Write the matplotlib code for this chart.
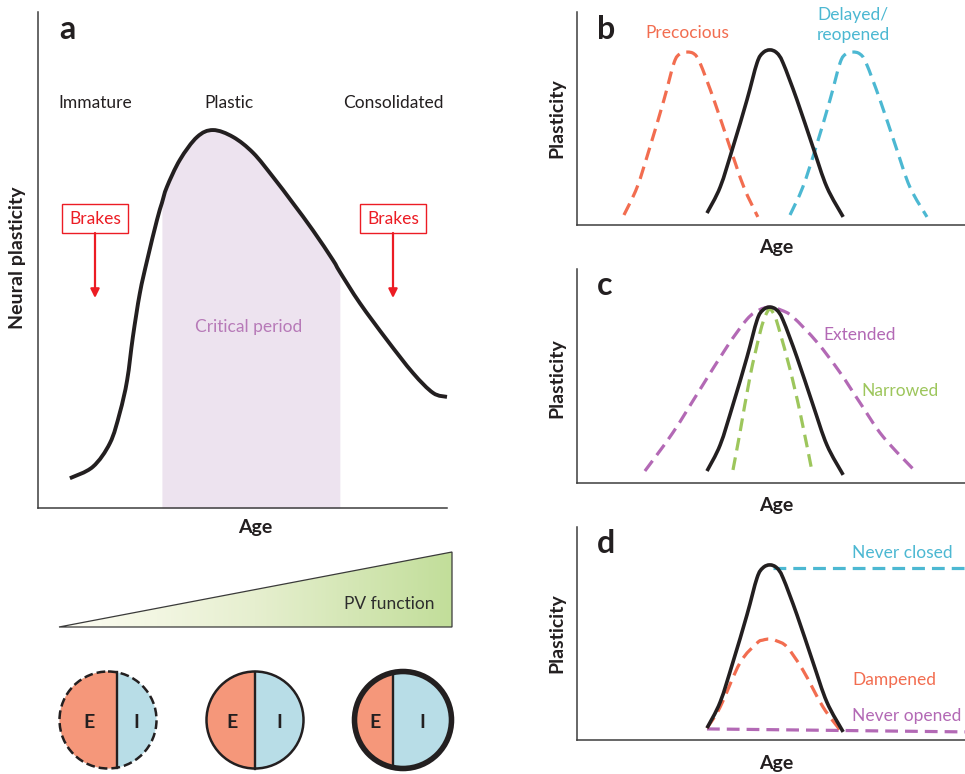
import numpy as np
import matplotlib
matplotlib.use('Agg')
import matplotlib.pyplot as plt
from matplotlib.patches import Circle, Rectangle, Polygon, PathPatch
from matplotlib.path import Path
from matplotlib.colors import LinearSegmentedColormap

plt.rcParams['font.family'] = ['Lato', 'DejaVu Sans']

# ---- panel a: neural plasticity over age (arbitrary units 0-100) ----
a_age = [7.8, 13.4, 17.6, 20.0, 21.8, 23.2, 24.9, 26.7, 29.1, 30.3, 31.5, 34.7, 38.9,
         42.8, 47.7, 52.6, 57.5, 62.3, 67.2, 72.1, 73.8, 78.7, 85.3, 91.7, 96.6, 100.0]
a_plast = [6.0, 8.3, 13.1, 19.2, 25.8, 34.5, 43.3, 50.0, 58.1, 61.5, 64.7, 70.2, 74.8,
           76.2, 74.8, 71.6, 66.7, 61.5, 56.0, 50.0, 47.6, 41.3, 33.9, 27.2, 23.2, 22.4]
critical_start, critical_end = 30.3, 73.8
stage_labels = ['Immature', 'Plastic', 'Consolidated']

# ---- panels b-d (arbitrary units 0-100) ----
normal_age = [33.5, 36.9, 40.2, 43.8, 46.4, 47.9, 49.7, 51.5, 53.1, 56.7, 60.8, 64.4, 68.6]
normal_plast = [5.6, 17.8, 36.6, 58.7, 76.1, 80.8, 82.2, 80.8, 76.1, 58.7, 36.6, 17.8, 3.8]

precocious_age = [12.1, 15.5, 18.8, 22.4, 25.0, 26.5, 28.4, 30.2, 31.7, 35.3, 39.4, 43.0, 46.6]
delayed_age = [54.9, 58.2, 61.6, 65.2, 67.8, 69.3, 71.1, 72.9, 74.5, 78.1, 82.2, 85.8, 90.2]
shifted_plast = [4.7, 17.8, 36.6, 58.7, 76.1, 80.3, 81.2, 80.3, 76.1, 58.7, 36.6, 17.8, 3.8]

extended_age = [17.5, 24.7, 31.7, 38.7, 43.8, 46.9, 49.7, 52.6, 55.7, 61.9, 67.8, 72.9, 78.9, 87.6]
extended_plast = [5.6, 23.5, 43.7, 63.8, 76.5, 80.8, 82.2, 80.8, 77.5, 65.7, 51.6, 37.6, 21.6, 4.7]
narrowed_age = [40.2, 42.0, 44.6, 47.2, 48.5, 49.7, 51.0, 52.3, 54.9, 57.5, 60.6]
narrowed_plast = [6.1, 23.5, 49.8, 70.4, 77.9, 81.2, 77.9, 70.4, 53.1, 32.9, 5.2]

never_closed_age = [50.5, 100.0]
never_closed_plast = [80.8, 80.8]
dampened_age = [33.5, 36.9, 42.0, 46.4, 47.9, 49.7, 51.5, 54.1, 58.2, 63.4, 67.8]
dampened_plast = [5.6, 15.5, 36.2, 45.5, 46.9, 47.4, 46.5, 43.7, 32.9, 15.5, 4.7]
never_opened_age = [33.5, 100.0]
never_opened_plast = [5.2, 3.8]

# E/I balance circles: share of width taken by E
e_share = [0.59, 0.50, 0.40]

BLACK = '#231f20'
ORANGE = '#f26d50'
BLUE = '#4cb8d2'
PURPLE = '#b369b5'
GREEN = '#9dc65c'
RED = '#ec1c24'

W, H = 965, 774
fig = plt.figure(figsize=(W / 100, H / 100), dpi=100)


def px_axes(x0, y0, x1, y1):
    ax = fig.add_axes([x0 / W, 1 - y1 / H, (x1 - x0) / W, (y1 - y0) / H])
    ax.set_xlim(0, 100)
    ax.set_ylim(0, 100)
    for s in ['top', 'right']:
        ax.spines[s].set_visible(False)
    for s in ['left', 'bottom']:
        ax.spines[s].set_color('#3d3d3d')
        ax.spines[s].set_linewidth(1.1)
    ax.set_xticks([])
    ax.set_yticks([])
    ax.patch.set_alpha(0)
    return ax


def smooth_curve(ax, x, y, **kw):
    # smooth bezier path going through the read points
    pts = np.column_stack([x, y])
    n = len(pts)
    verts = [pts[0]]
    codes = [Path.MOVETO]
    for i in range(n - 1):
        p0 = pts[i - 1] if i > 0 else pts[i]
        p1, p2 = pts[i], pts[i + 1]
        p3 = pts[i + 2] if i + 2 < n else pts[i + 1]
        verts += [p1 + (p2 - p0) / 6, p2 - (p3 - p1) / 6, p2]
        codes += [Path.CURVE4] * 3
    patch = PathPatch(Path(verts, codes), fill=False, clip_on=False, **kw)
    patch.set_capstyle('butt')
    patch.set_joinstyle('round')
    ax.add_patch(patch)
    return patch


dash = (0, (4, 2.2))
kw_norm = dict(ec=BLACK, lw=2.6, zorder=3)
kw_dash = dict(lw=2.3, linestyle=dash, zorder=2)

# panel a
axa = px_axes(38, 12, 447, 508)
a_age_arr = np.array(a_age)
axa.fill_between(a_age, 0, a_plast, where=(a_age_arr >= critical_start) & (a_age_arr <= critical_end),
                 color='#ede3ef', lw=0, zorder=1)
smooth_curve(axa, a_age, a_plast, ec=BLACK, lw=2.8, zorder=3)

# panel b
axb = px_axes(577, 12, 965, 225)
smooth_curve(axb, precocious_age, shifted_plast, ec=ORANGE, **kw_dash)
smooth_curve(axb, delayed_age, shifted_plast, ec=BLUE, **kw_dash)
smooth_curve(axb, normal_age, normal_plast, **kw_norm)

# panel c
axc = px_axes(577, 269, 965, 483)
smooth_curve(axc, extended_age, extended_plast, ec=PURPLE, **kw_dash)
smooth_curve(axc, narrowed_age, narrowed_plast, ec=GREEN, **kw_dash)
smooth_curve(axc, normal_age, normal_plast, **kw_norm)

# panel d
axd = px_axes(577, 527, 965, 740)
axd.plot(never_closed_age, never_closed_plast, color=BLUE, lw=2.3, linestyle=dash,
         dash_capstyle='butt', clip_on=False, zorder=2)
axd.plot(never_opened_age, never_opened_plast, color=PURPLE, lw=2.3, linestyle=dash,
         dash_capstyle='butt', clip_on=False, zorder=2)
smooth_curve(axd, dampened_age, dampened_plast, ec=ORANGE, **kw_dash)
smooth_curve(axd, normal_age, normal_plast, **kw_norm)

# overlay in pixel coordinates for labels and drawings
ov = fig.add_axes([0, 0, 1, 1], zorder=10)
ov.patch.set_alpha(0)
ov.axis('off')

# panel letters
for letter, x, y in [('a', 59, 39), ('b', 597, 39), ('c', 597, 295), ('d', 597, 553)]:
    ov.text(x, y, letter, fontsize=23, fontweight='bold', color=BLACK, va='baseline', ha='left')

# axis labels
ov.text(18, 258, 'Neural plasticity', rotation=90, fontsize=14, fontweight='bold',
        color=BLACK, ha='center', va='center')
ov.text(255, 527, 'Age', fontsize=14, fontweight='bold', color=BLACK, ha='center', va='center')
for yc, ya in [(118, 247), (378, 505), (633, 763)]:
    ov.text(557, yc, 'Plasticity', rotation=90, fontsize=14, fontweight='bold',
            color=BLACK, ha='center', va='center')
    ov.text(776, ya, 'Age', fontsize=14, fontweight='bold', color=BLACK, ha='center', va='center')

# stage labels
for lab, x in zip(stage_labels, [95, 229, 393]):
    ov.text(x, 103, lab, fontsize=12.5, color='#231f20', ha='center', va='center')
ov.text(249, 327, 'Critical period', fontsize=12.5, color='#b77ab8', ha='center', va='center')

# brakes
for x in [95, 393]:
    ov.add_patch(Rectangle((x - 33, 204), 66, 29, fill=False, ec=RED, lw=1.0))
    ov.text(x, 219, 'Brakes', fontsize=12.5, color=RED, ha='center', va='center')
    ov.annotate('', xy=(x, 298), xytext=(x, 233),
                arrowprops=dict(arrowstyle='-|>', color=RED, lw=1.6, mutation_scale=13,
                                shrinkA=0, shrinkB=0))

# curve labels
ov.text(687, 33, 'Precocious', fontsize=12.5, color=ORANGE, ha='center', va='center')
ov.text(853, 15, 'Delayed/', fontsize=12.5, color=BLUE, ha='center', va='center')
ov.text(853, 35, 'reopened', fontsize=12.5, color=BLUE, ha='center', va='center')
ov.text(823, 335, 'Extended', fontsize=12.5, color=PURPLE, ha='left', va='center')
ov.text(861, 391, 'Narrowed', fontsize=12.5, color=GREEN, ha='left', va='center')
ov.text(852, 553, 'Never closed', fontsize=12.5, color=BLUE, ha='left', va='center')
ov.text(852, 680, 'Dampened', fontsize=12.5, color=ORANGE, ha='left', va='center')
ov.text(852, 716, 'Never opened', fontsize=12.5, color=PURPLE, ha='left', va='center')

# PV function wedge with gradient
cmap = LinearSegmentedColormap.from_list('pv', ['#fefdf4', '#e6efcf', '#c2de9a'])
grad = np.linspace(0, 1, 256).reshape(1, -1)
im = ov.imshow(grad, cmap=cmap, extent=(59, 452, 627, 552), aspect='auto', zorder=1)
tri = Polygon([(59, 627), (452, 552), (452, 627)], closed=True, fill=False, ec='#3a3a3a',
              lw=0.9, zorder=2)
ov.add_patch(tri)
im.set_clip_path(tri)
ov.text(434, 604, 'PV function', fontsize=12.5, color='#2d2d2d', ha='right', va='center', zorder=3)

# E/I circles
centers = [108, 255, 403]
outline_styles = [dict(lw=1.8, linestyle=(0, (3.5, 1.6))), dict(lw=1.8), dict(lw=4.0)]
r, cy = 48.5, 720
for cx, share, st in zip(centers, e_share, outline_styles):
    left = cx - r
    split = left + share * 2 * r
    ov.add_patch(Circle((cx, cy), r, fc='#b8dde7', ec='none', zorder=2))
    epart = Circle((cx, cy), r, fc='#f5977a', ec='none', zorder=3)
    ov.add_patch(epart)
    clip = Rectangle((left - 5, cy - r - 5), split - left + 5, 2 * r + 10, transform=ov.transData)
    epart.set_clip_path(clip)
    h = np.sqrt(r ** 2 - (split - cx) ** 2)
    ov.plot([split, split], [cy - h, cy + h], color=BLACK, lw=1.7, zorder=4)
    ov.add_patch(Circle((cx, cy), r, fill=False, ec=BLACK, zorder=5, **st))
    ov.text((left + split) / 2 + 1, cy + 2, 'E', fontsize=14, fontweight='bold', color=BLACK,
            ha='center', va='center', zorder=6)
    ov.text((split + cx + r) / 2, cy + 2, 'I', fontsize=14, fontweight='bold', color=BLACK,
            ha='center', va='center', zorder=6)

ov.set_xlim(0, W)
ov.set_ylim(H, 0)

fig.savefig('out.png', dpi=100)
